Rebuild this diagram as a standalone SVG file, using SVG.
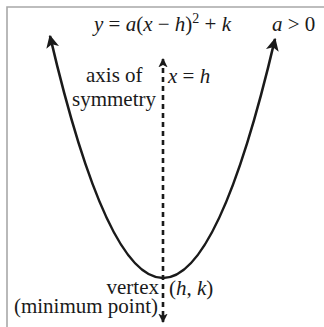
<svg xmlns="http://www.w3.org/2000/svg" width="324" height="327" viewBox="0 0 324 327">
<style>
text{font-family:'Liberation Serif','Times New Roman',serif;font-size:21px;fill:#1a1a1a}
.i{font-style:italic}
.curve{fill:none;stroke:#1a1a1a;stroke-width:2.6}
.axis{fill:none;stroke:#1a1a1a;stroke-width:2.6;stroke-dasharray:5 4}
.frame{fill:none;stroke:#a8a8a8;stroke-width:1.6}
</style>
<defs>
<marker id="ah" viewBox="0 0 10 10" refX="9" refY="5" markerWidth="5" markerHeight="5" markerUnits="strokeWidth" orient="auto-start-reverse">
<path d="M0,0 L10,5 L0,10 L2.5,5 Z" fill="#1a1a1a"/>
</marker>
<marker id="ahs" viewBox="0 0 10 10" refX="9" refY="5" markerWidth="3.6" markerHeight="3.6" markerUnits="strokeWidth" orient="auto-start-reverse">
<path d="M0,0 L10,5 L0,10 L2.5,5 Z" fill="#1a1a1a"/>
</marker>
</defs>
<g id="frame">
<path class="frame" d="M7,327 V7 H324"/>
</g>
<g id="connectors">
<path id="parabola" class="curve" d="M50,36 Q106.5,278 163,278 Q219,278 275,39" marker-start="url(#ah)" marker-end="url(#ah)"/>
<path id="axis" class="axis" d="M163,59 V322" marker-start="url(#ahs)" marker-end="url(#ahs)"/>
</g>
<g id="equation">
<text x="94" y="31"><tspan class="i">y</tspan> = <tspan class="i">a</tspan>(<tspan class="i">x</tspan> − <tspan class="i">h</tspan>)<tspan font-size="14" dy="-8">2</tspan><tspan dy="8"> + </tspan><tspan class="i">k</tspan></text>
</g>
<g id="condition">
<text x="272" y="31"><tspan class="i">a</tspan> &gt; 0</text>
</g>
<g id="axis-label">
<text x="86" y="82">axis of</text>
<text x="72" y="106">symmetry</text>
<text x="168" y="83"><tspan class="i">x</tspan> = <tspan class="i">h</tspan></text>
</g>
<g id="vertex-label">
<text x="159" y="294" text-anchor="end">vertex</text>
<text x="169" y="295">(<tspan class="i">h</tspan>, <tspan class="i">k</tspan>)</text>
<text x="158" y="313" text-anchor="end">(minimum point)</text>
</g>
</svg>
